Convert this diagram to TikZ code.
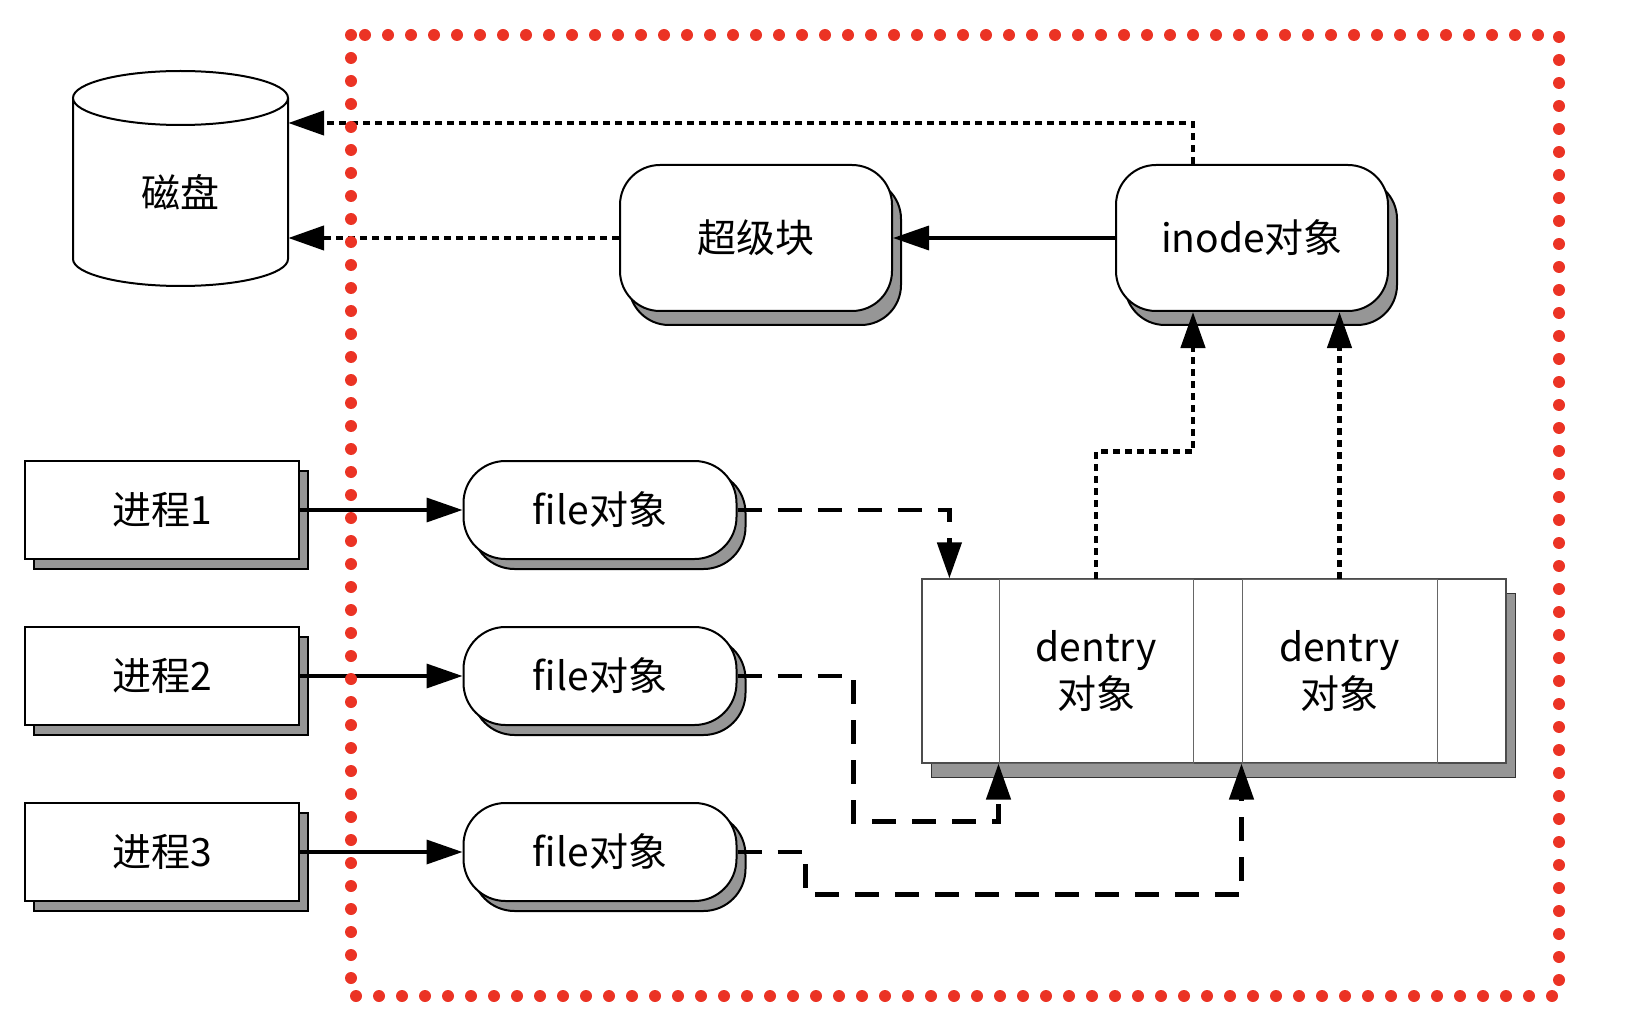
\documentclass[tikz,border=0pt]{standalone}
\usepackage{fontspec}
\setmainfont{Noto Sans CJK SC}
\usepackage{tikz}
\usetikzlibrary{arrows.meta, positioning, calc, shadows}
\definecolor{shadowGray}{RGB}{150,150,150}
\definecolor{dotRed}{RGB}{235,51,36}

\begin{document}
\begin{tikzpicture}[x=1pt, y=-1pt,
    every node/.style={font=\fontsize{39pt}{47pt}\selectfont},
    objbox/.style={draw, line width=2pt, fill=white, rounded corners=40pt, minimum width=272pt, minimum height=146pt,
        general shadow={shadow xshift=9pt, shadow yshift=-14pt, fill=shadowGray, draw=black, line width=2pt}},
    procbox/.style={draw, line width=2pt, fill=white, minimum width=274pt, minimum height=98pt,
        general shadow={shadow xshift=9pt, shadow yshift=-10pt, fill=shadowGray, draw=black, line width=2pt}},
    filebox/.style={draw, line width=2pt, fill=white, rounded corners=42pt, minimum width=273pt, minimum height=98pt,
        general shadow={shadow xshift=9pt, shadow yshift=-10pt, fill=shadowGray, draw=black, line width=2pt}},
    cell/.style={draw=black!60, line width=1pt, minimum height=184pt, inner sep=0pt, align=center},
    tip/.style={-{Triangle[length=36pt, width=24pt]}},
    solidarrow/.style={tip, line width=3.5pt},
    dotarrow/.style={tip, line width=4.5pt, dash pattern=on 7pt off 5pt},
    dasharrow/.style={tip, line width=4.5pt, dash pattern=on 24pt off 16pt},
    reddots/.style={dotRed, line width=12pt, line cap=round, dash pattern=on 0pt off 23pt}]
    \useasboundingbox (0,0) rectangle (1644,1032);

    % disk
    \draw[line width=2pt, fill=white] (73,98) -- (73,259) arc[start angle=180, end angle=0, x radius=107.5, y radius=27] -- (288,98);
    \draw[line width=2pt, fill=white] (180.5,98) ellipse [x radius=107.5, y radius=27];
    \node[minimum width=215pt, inner sep=0pt] (disk) at (180.5,192) {磁盘};

    % kernel objects
    \node[objbox] (sblock) at (756,238) {超级块};
    \node[objbox] (inode) at (1252,238) {inode对象};

    \node[procbox] (proc1) at (162,510) {进程1};
    \node[procbox] (proc2) at (162,676) {进程2};
    \node[procbox] (proc3) at (162,852) {进程3};

    \node[filebox] (file1) at (600,510) {file对象};
    \node[filebox] (file2) at (600,676) {file对象};
    \node[filebox] (file3) at (600,852) {file对象};

    % dentry cache
    \node[draw=black!70, line width=1.2pt, fill=white, minimum width=584pt, minimum height=184pt,
        general shadow={shadow xshift=9pt, shadow yshift=-14pt, fill=shadowGray, draw=black!80, line width=1pt}] (dcache) at (1214,671) {};
    \node[cell, minimum width=194pt] (den1) at (1096,671) {dentry\\对象};
    \node[cell, minimum width=195pt] (den2) at (1339.5,671) {dentry\\对象};

    % connections
    \draw[dotarrow] ([xshift=-59pt]inode.north) |- ([yshift=69pt]disk.east);
    \draw[dotarrow] (sblock.west) -- (sblock.west -| disk.east);
    \draw[solidarrow] (inode.west) -- (sblock.east);

    \draw[dotarrow] (den1.north) -- ++(0,-127) -| ([xshift=-59pt]inode.south);
    \draw[dotarrow] (den2.north) -- (den2.north |- inode.south);

    \draw[solidarrow] (proc1.east) -- (file1.west);
    \draw[solidarrow] (proc2.east) -- (file2.west);
    \draw[solidarrow] (proc3.east) -- (file3.west);

    \draw[dasharrow] (file1.east) -| ([xshift=28pt]dcache.north west);
    \draw[dasharrow] (file2.east) -- ++(116,0) |- ($(den1.south west)+(0,58)$) -- (den1.south west);
    \draw[dasharrow] (file3.east) -- ++(68,0) |- ($(den2.south west)+(0,131)$) -- (den2.south west);

    % boundary
    \draw[reddots] (351,35) rectangle (1559,996);
\end{tikzpicture}
\end{document}
